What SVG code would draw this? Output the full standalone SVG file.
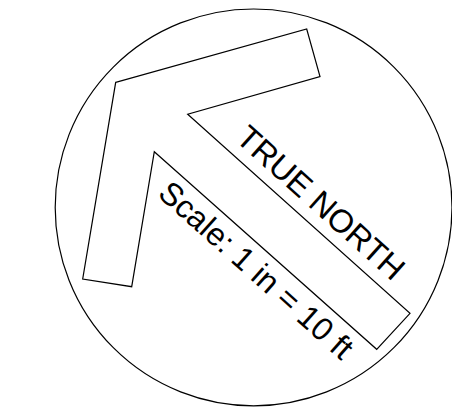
<svg xmlns="http://www.w3.org/2000/svg" width="452" height="416" viewBox="0 0 452 416">
  <style>
    .outline { fill: none; stroke: #000; stroke-width: 1.2; }
    .label { font-family: "Liberation Sans", Arial, sans-serif; font-size: 32px; fill: #000; }
  </style>
  <rect width="452" height="416" fill="#fff"/>
  <g id="compass">
    <circle class="outline" cx="253.6" cy="207.4" r="198.4"/>
  </g>
  <g id="arrow">
    <polygon class="outline" points="115.7,82.3 306.7,29 320,76.7 187.7,114.2 410,313.3 376.7,349.3 154.3,151.7 131.7,286.7 82.7,279"/>
  </g>
  <g id="labels" transform="rotate(41.87)">
    <text class="label" x="268" y="-52" style="font-size:32.5px">TRUE NORTH</text>
    <text class="label" x="247" y="41">Scale: 1 in = 10 ft</text>
  </g>
</svg>
